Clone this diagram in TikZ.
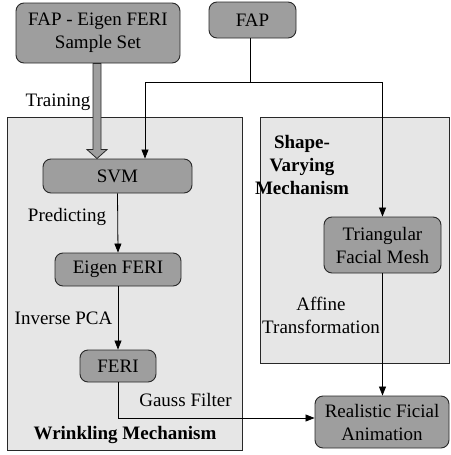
\documentclass[tikz,border=0pt]{standalone}
\usepackage{fontspec}
\setmainfont{Liberation Serif}
\usetikzlibrary{arrows.meta,calc}
\definecolor{boxgray}{RGB}{158,158,158}
\definecolor{panelgray}{RGB}{230,230,230}
\definecolor{edge}{RGB}{40,40,40}
\begin{document}
\begin{tikzpicture}[x=1pt,y=-1pt,
  box/.style={draw=edge,line width=0.9pt,fill=boxgray,rounded corners=8pt,inner sep=0pt,align=center,font=\fontsize{19}{23}\selectfont},
  panel/.style={draw=edge,line width=0.8pt,fill=panelgray},
  lbl/.style={inner sep=0pt,align=center,font=\fontsize{19}{23}\selectfont},
  blbl/.style={lbl,font=\fontsize{19}{23}\selectfont\bfseries},
  conn/.style={draw=black,line width=0.8pt,-{Triangle[width=7pt,length=9pt]}},
  fat/.style={draw=edge,line width=0.8pt,fill=boxgray}]
\useasboundingbox (0,0) rectangle (450,455);
% panels
\draw[panel] (7,117) rectangle (242,450);
\draw[panel] (260,117) rectangle (449,363);
% nodes
\node[box,minimum width=164pt,minimum height=60pt] (sample) at (98,33) {FAP - Eigen FERI\\Sample Set};
\node[box,minimum width=87pt,minimum height=36pt] (fap) at (252.5,20) {FAP};
\node[box,minimum width=149pt,minimum height=34pt] (svm) at (117.5,176) {SVM};
\node[box,minimum width=126pt,minimum height=33pt] (eigen) at (118,269.5) {Eigen FERI};
\node[box,minimum width=76pt,minimum height=32pt] (feri) at (118,366) {FERI};
\node[box,minimum width=117pt,minimum height=56pt] (tri) at (382.5,245) {Triangular\\Facial Mesh};
\node[box,minimum width=134pt,minimum height=52pt] (real) at (382,422) {Realistic Ficial\\Animation};
% labels
\node[lbl] (ltrain) at (58,102) {Training};
\node[lbl] (lpred) at (67,217) {Predicting};
\node[lbl] (lipca) at (63.5,318) {Inverse PCA};
\node[lbl] (lgauss) at (185.5,400) {Gauss Filter};
\node[blbl] (lwrink) at (125,435) {Wrinkling Mechanism};
\node[blbl] (lshape) at (302,165) {Shape-\\Varying\\Mechanism};
\node[lbl] (laffine) at (321,315) {Affine\\Transformation};
% fat training arrow
\coordinate (fs) at ($(sample.south)+(-1,0)$);
\coordinate (ft) at (fs |- svm.north);
\draw[fat] ($(fs)+(-4,0)$) -- ($(ft)+(-4,-9)$) -- ($(ft)+(-10,-9)$) -- (ft)
  -- ($(ft)+(10,-9)$) -- ($(ft)+(4,-9)$) -- ($(fs)+(4,0)$) -- cycle;
% FAP distribution
\coordinate (j) at ($(fap.south)+(-2.5,44)$);
\coordinate (svmin) at ($(svm.north)+(27.5,0)$);
\draw[line width=0.8pt] (fap.south -| j) -- (j);
\draw[conn] (j) -| (svmin);
\draw[conn] (j) -| (tri.north);
% chain
\draw[conn] (svm.south) -- (eigen.north);
\draw[conn] (eigen.south) -- (feri.north);
\draw[conn] (feri.south) |- ($(real.west)+(0,-4)$);
\draw[conn] (tri.south) -- (tri.south |- real.north);
\end{tikzpicture}
\end{document}
